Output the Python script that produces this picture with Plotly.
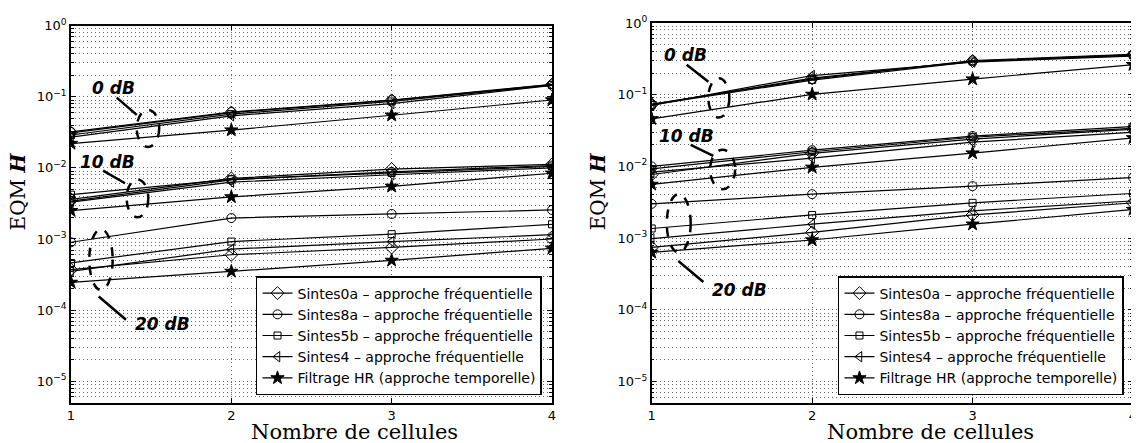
import plotly.graph_objects as go

# Abscisse commune
cellules = [1, 2, 3, 4]
snr_labels = ["0 dB", "10 dB", "20 dB"]

series_noms = [
    "Sintes0a \u2013 approche fréquentielle",
    "Sintes8a \u2013 approche fréquentielle",
    "Sintes5b \u2013 approche fréquentielle",
    "Sintes4 \u2013 approche fréquentielle",
    "Filtrage HR (approche temporelle)",
]

# Figure de gauche : une ligne par niveau de SNR (0, 10, 20 dB)
gauche_sintes0a = [[0.031, 0.060, 0.089, 0.148], [0.0036, 0.0071, 0.0096, 0.0112], [0.00037, 0.00060, 0.00076, 0.00100]]
gauche_sintes8a = [[0.032, 0.061, 0.090, 0.150], [0.0034, 0.0068, 0.0088, 0.0108], [0.00090, 0.00197, 0.00225, 0.00256]]
gauche_sintes5b = [[0.029, 0.057, 0.086, 0.146], [0.0042, 0.0069, 0.0085, 0.0105], [0.00046, 0.00092, 0.00117, 0.00161]]
gauche_sintes4 = [[0.027, 0.054, 0.080, 0.145], [0.0033, 0.0063, 0.0080, 0.0100], [0.00035, 0.00072, 0.00092, 0.00115]]
gauche_hr = [[0.022, 0.034, 0.055, 0.090], [0.0025, 0.0039, 0.0055, 0.0084], [0.000245, 0.00035, 0.00050, 0.00074]]

# Figure de droite
droite_sintes0a = [[0.073, 0.170, 0.295, 0.360], [0.0077, 0.0152, 0.0240, 0.0330], [0.00074, 0.00120, 0.00210, 0.00310]]
droite_sintes8a = [[0.074, 0.165, 0.300, 0.365], [0.0100, 0.0168, 0.0265, 0.0360], [0.00300, 0.00410, 0.00530, 0.00700]]
droite_sintes5b = [[0.072, 0.160, 0.290, 0.355], [0.0092, 0.0160, 0.0255, 0.0340], [0.00136, 0.00210, 0.00310, 0.00420]]
droite_sintes4 = [[0.071, 0.185, 0.285, 0.345], [0.0083, 0.0130, 0.0218, 0.0300], [0.00098, 0.00156, 0.00240, 0.00330]]
droite_hr = [[0.046, 0.101, 0.165, 0.262], [0.0056, 0.0097, 0.0153, 0.0250], [0.00063, 0.00094, 0.00156, 0.00250]]

ytick_vals = [1e0, 1e-1, 1e-2, 1e-3, 1e-4, 1e-5]
ytick_text = ["10<sup>0</sup>", "10<sup>\u22121</sup>", "10<sup>\u22122</sup>",
              "10<sup>\u22123</sup>", "10<sup>\u22124</sup>", "10<sup>\u22125</sup>"]

symbols = ["diamond-open", "circle-open", "square-open", "triangle-left-open", "star"]
sizes = [10, 9, 7, 9, 10]

SANS = "DejaVu Sans, Arial, sans-serif"
SERIF = "DejaVu Serif, Times New Roman, serif"


def joindre(groupes):
    xs, ys = [], []
    for i, g in enumerate(groupes):
        if i:
            xs.append(None)
            ys.append(None)
        xs += cellules
        ys += g
    return xs, ys


fig = go.Figure()

panneaux = [
    ("x", "y", "legend", [gauche_sintes0a, gauche_sintes8a, gauche_sintes5b, gauche_sintes4, gauche_hr]),
    ("x2", "y2", "legend2", [droite_sintes0a, droite_sintes8a, droite_sintes5b, droite_sintes4, droite_hr]),
]
for xa, ya, leg, series in panneaux:
    for nom, groupes, sym, sz in zip(series_noms, series, symbols, sizes):
        xs, ys = joindre(groupes)
        fig.add_trace(go.Scatter(
            x=xs, y=ys, name=nom, mode="lines+markers",
            xaxis=xa, yaxis=ya, legend=leg,
            line=dict(color="black", width=1.2),
            marker=dict(symbol=sym, size=sz, color="black", line=dict(color="black", width=1)),
        ))

grid = dict(color="#666666", dash="1px,3px")
minor_y = [k * 10.0 ** e for e in range(-6, 0) for k in range(2, 10)]


def yaxe(domain, anchor):
    return dict(
        type="log", range=[-5.301, 0], domain=domain, anchor=anchor,
        tickvals=ytick_vals, ticktext=ytick_text,
        tickfont=dict(family=SANS, size=13, color="black"),
        ticks="inside", ticklen=5, tickcolor="black",
        showline=True, linecolor="black", linewidth=1.5, mirror="allticks",
        showgrid=True, gridcolor=grid["color"], griddash=grid["dash"], gridwidth=1,
        minor=dict(tickvals=minor_y, ticks="inside", ticklen=3, tickcolor="black",
                   showgrid=True, gridcolor=grid["color"], griddash=grid["dash"], gridwidth=1),
        zeroline=False, automargin=False,
    )


def xaxe(domain, anchor):
    return dict(
        range=[1, 4], domain=domain, anchor=anchor,
        tickvals=cellules, ticktext=[str(c) for c in cellules],
        tickfont=dict(family=SANS, size=13, color="black"),
        ticks="inside", ticklen=5, tickcolor="black",
        showline=True, linecolor="black", linewidth=1.5, mirror="allticks",
        showgrid=True, gridcolor=grid["color"], griddash=grid["dash"], gridwidth=1,
        zeroline=False, automargin=False,
    )


legende = dict(
    font=dict(family=SANS, size=14, color="black"),
    bgcolor="white", bordercolor="black", borderwidth=1.5,
    xanchor="right", yanchor="bottom", y=0.021,
    tracegroupgap=0, itemclick=False,
)

# la page ajoute une marge de 8 px : la figure est réduite d'autant
fig.update_layout(
    width=1131, height=435,
    margin=dict(l=63, r=6, t=15, b=40),
    paper_bgcolor="white", plot_bgcolor="white",
    showlegend=True,
    xaxis=xaxe([0, 0.4529], "y"),
    yaxis=yaxe([0.001, 0.993], "x"),
    xaxis2=xaxe([0.5468, 1.0], "y2"),
    yaxis2=yaxe([0.0, 1.0], "x2"),
    legend=dict(legende, x=0.4435),
    legend2=dict(legende, x=0.9915),
)

# Titres des axes
for x in (0.2665, 0.8089):
    fig.add_annotation(x=x, y=-0.075, xref="paper", yref="paper", text="Nombre de cellules",
                       showarrow=False, xanchor="center", yanchor="middle",
                       font=dict(family=SERIF, size=21, color="black"))
for x in (-0.0495, 0.4966):
    fig.add_annotation(x=x, y=0.558, xref="paper", yref="paper", text="EQM <b><i>H</i></b>",
                       showarrow=False, textangle=-90, xanchor="center", yanchor="middle",
                       font=dict(family=SERIF, size=20, color="black"))

# Ellipses en pointillés et traits de rappel pour les niveaux de SNR
ellipses = [
    ("x", "y", [(1.41, 1.55, 0.0197, 0.0653), (1.347, 1.482, 0.00202, 0.0069), (1.114, 1.26, 0.000192, 0.00137)]),
    ("x2", "y2", [(1.353, 1.484, 0.048, 0.169), (1.364, 1.52, 0.0048, 0.017), (1.094, 1.243, 0.00063, 0.0041)]),
]
rappels = [
    ("x", "y", [(1.285, 1.41, 0.0973, 0.0556), (1.20, 1.337, 0.00915, 0.00608), (1.173, 1.343, 0.000155, 7.3e-5)]),
    ("x2", "y2", [(1.218, 1.353, 0.262, 0.151), (1.243, 1.384, 0.020, 0.014), (1.166, 1.322, 0.000479, 0.000244)]),
]
etiquettes = [
    ("x", "y", [(1.1185, -0.876), (1.044, -1.912), (1.387, -4.194)]),
    ("x2", "y2", [(1.062, -0.447), (1.035, -1.574), (1.364, -3.725)]),
]

for xr, yr, lst in ellipses:
    for x0, x1, y0, y1 in lst:
        fig.add_shape(type="circle", xref=xr, yref=yr, x0=x0, x1=x1, y0=y0, y1=y1,
                      line=dict(color="black", width=2.5, dash="dash"))
for xr, yr, lst in rappels:
    for x0, x1, y0, y1 in lst:
        fig.add_shape(type="line", xref=xr, yref=yr, x0=x0, x1=x1, y0=y0, y1=y1,
                      line=dict(color="black", width=2.5))
for xr, yr, lst in etiquettes:
    for (x, ylog), lab in zip(lst, snr_labels):
        fig.add_annotation(x=x, y=ylog, xref=xr, yref=yr, text=f"<b><i>{lab}</i></b>",
                           showarrow=False, xanchor="left", yanchor="middle",
                           font=dict(family=SANS, size=17, color="black"))

fig.write_html("out.html")
